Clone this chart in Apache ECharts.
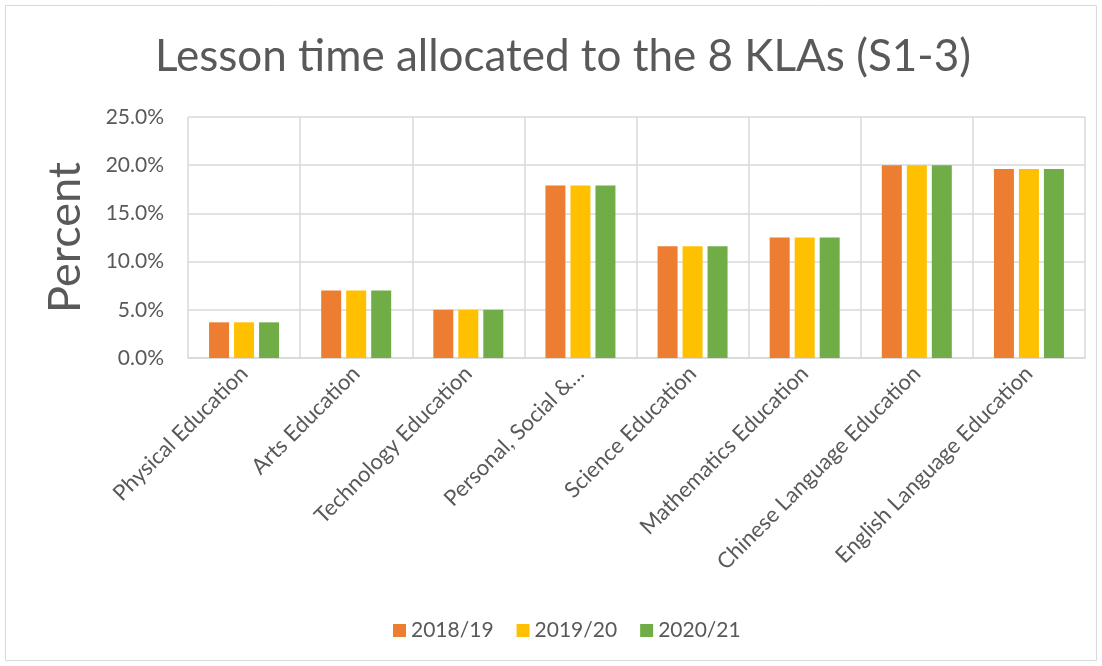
<!DOCTYPE html>
<html>
<head>
<meta charset="utf-8">
<script src="https://cdn.jsdelivr.net/npm/echarts@6/dist/echarts.min.js"></script>
<style>
  html, body { margin: 0; padding: 0; background: #fff; }
  #chart { width: 1102px; height: 666px; }
</style>
</head>
<body>
<div id="chart"></div>
<script>
// categories and values (percent of lesson time)
const categories = [
  'Physical Education',
  'Arts Education',
  'Technology Education',
  'Personal, Social &…',
  'Science Education',
  'Mathematics Education',
  'Chinese Language Education',
  'English Language Education'
];
const years = ['2018/19', '2019/20', '2020/21'];
const values1819 = [3.7, 7.0, 5.0, 17.9, 11.6, 12.5, 20.0, 19.6];
const values1920 = [3.7, 7.0, 5.0, 17.9, 11.6, 12.5, 20.0, 19.6];
const values2021 = [3.7, 7.0, 5.0, 17.9, 11.6, 12.5, 20.0, 19.6];
const colors = ['#ED7D31', '#FFC000', '#70AD47'];

const chart = echarts.init(document.getElementById('chart'));
const textColor = '#595959';
const font = 'Lato, "Open Sans", sans-serif';

const option = {
  animation: false,
  textStyle: { fontFamily: font },
  color: colors,
  // outer chart border
  graphic: [{
    type: 'rect',
    shape: { x: 5.5, y: 5.5, width: 1091, height: 655 },
    style: { fill: 'none', stroke: '#d9d9d9', lineWidth: 1 },
    silent: true
  }],
  title: {
    text: 'Lesson time allocated to the 8 KLAs (S1-3)',
    left: 150,
    top: 30,
    textStyle: { fontFamily: font, fontSize: 44, fontWeight: 'normal', color: textColor }
  },
  legend: {
    bottom: 20,
    left: 388,
    itemWidth: 13,
    itemHeight: 13,
    itemGap: 23,
    icon: 'rect',
    textStyle: { fontFamily: font, fontSize: 21, color: textColor },
    data: years
  },
  grid: { left: 188, right: 17, top: 117, bottom: 308 },
  xAxis: {
    type: 'category',
    data: categories,
    axisLine: { lineStyle: { color: '#d9d9d9', width: 1.5 } },
    axisTick: { show: false },
    splitLine: { show: true, lineStyle: { color: '#d9d9d9', width: 1.5 } },
    axisLabel: {
      interval: 0,
      rotate: 45,
      margin: 12,
      fontFamily: font,
      fontSize: 22,
      color: textColor
    }
  },
  yAxis: {
    type: 'value',
    min: 0,
    max: 25,
    interval: 5,
    name: 'Percent',
    nameLocation: 'middle',
    nameGap: 100,
    nameRotate: 90,
    nameTextStyle: { fontFamily: font, fontSize: 45, color: textColor },
    axisLine: { show: false },
    axisTick: { show: false },
    splitLine: { lineStyle: { color: '#d9d9d9', width: 1.5 } },
    axisLabel: {
      fontFamily: font,
      fontSize: 21,
      color: textColor,
      margin: 24,
      formatter: v => v.toFixed(1) + '%'
    }
  },
  series: [
    { name: years[0], type: 'bar', data: values1819, barWidth: 20, barGap: '25%' },
    { name: years[1], type: 'bar', data: values1920, barWidth: 20, barGap: '25%' },
    { name: years[2], type: 'bar', data: values2021, barWidth: 20, barGap: '25%' }
  ]
};

chart.setOption(option);
</script>
</body>
</html>
